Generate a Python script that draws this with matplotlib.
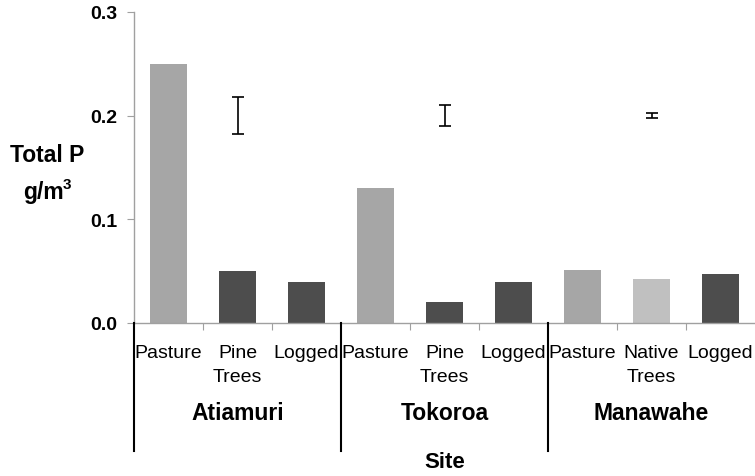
import matplotlib
matplotlib.use("Agg")
import matplotlib.pyplot as plt
from matplotlib import transforms

plt.rcParams['font.family'] = ['Liberation Sans', 'DejaVu Sans']

categories = ["Pasture", "Pine\nTrees", "Logged",
              "Pasture", "Pine\nTrees", "Logged",
              "Pasture", "Native\nTrees", "Logged"]
values = [0.250, 0.050, 0.040,
          0.130, 0.020, 0.040,
          0.051, 0.042, 0.047]
colors = ["#A6A6A6", "#4D4D4D", "#4D4D4D",
          "#A6A6A6", "#4D4D4D", "#4D4D4D",
          "#A6A6A6", "#C0C0C0", "#4D4D4D"]
sites = ["Atiamuri", "Tokoroa", "Manawahe"]
err_x = [1, 4, 7]
err_y = [0.2, 0.2, 0.2]
err_size = [0.018, 0.010, 0.0026]
yticks = [0.0, 0.1, 0.2, 0.3]
ytick_labels = ["0.0", "0.1", "0.2", "0.3"]

W, H = 755, 477
fig = plt.figure(figsize=(W / 100, H / 100), dpi=100)
ax = fig.add_axes([134 / W, 1 - 324 / H, (755 - 134) / W, (324 - 13) / H])

x = list(range(len(categories)))
ax.bar(x, values, width=0.55, color=colors, zorder=2)
ax.errorbar(err_x, err_y, yerr=err_size, fmt='none',
            ecolor='black', elinewidth=1.2, capsize=4.5, capthick=1.2, zorder=3)

ax.set_xlim(-0.5, 8.5)
ax.set_ylim(0, 0.3)
ax.set_yticks(yticks)
ax.set_yticklabels(ytick_labels, fontsize=14, fontweight='bold')
ax.tick_params(axis='y', direction='out', length=5, color='#A0A0A0', pad=7)
ax.set_xticks([0.5, 1.5, 3.5, 4.5, 6.5, 7.5])
ax.set_xticklabels([])
ax.tick_params(axis='x', direction='out', length=5, color='#A0A0A0')

for s in ['top', 'right']:
    ax.spines[s].set_visible(False)
for s in ['left', 'bottom']:
    ax.spines[s].set_color('#A0A0A0')
    ax.spines[s].set_linewidth(1.0)

tr = transforms.blended_transform_factory(ax.transData, fig.transFigure)

def fy(py):
    return 1 - py / H

for xi, lab in zip(x, categories):
    ax.text(xi, fy(345), lab, transform=tr, ha='center', va='top',
            fontsize=14, linespacing=1.55)

for gi, site in enumerate(sites):
    ax.text(gi * 3 + 1, fy(414), site, transform=tr, ha='center', va='center',
            fontsize=16.5, fontweight='bold')

for b in [-0.5, 2.5, 5.5]:
    ax.plot([b, b], [fy(324), fy(452)], transform=tr, color='black',
            linewidth=1.5, clip_on=False, zorder=4)

fig.text(445 / W, fy(463), "Site", ha='center', va='center',
         fontsize=16, fontweight='bold')
fig.text(47 / W, fy(156), "Total P", ha='center', va='center',
         fontsize=16.5, fontweight='bold')
fig.text(43 / W, fy(192), "g/m", ha='center', va='center',
         fontsize=16.5, fontweight='bold')
fig.text(63 / W, fy(178), "3", ha='left', va='top',
         fontsize=11, fontweight='bold')

fig.savefig("out.png", dpi=100)
